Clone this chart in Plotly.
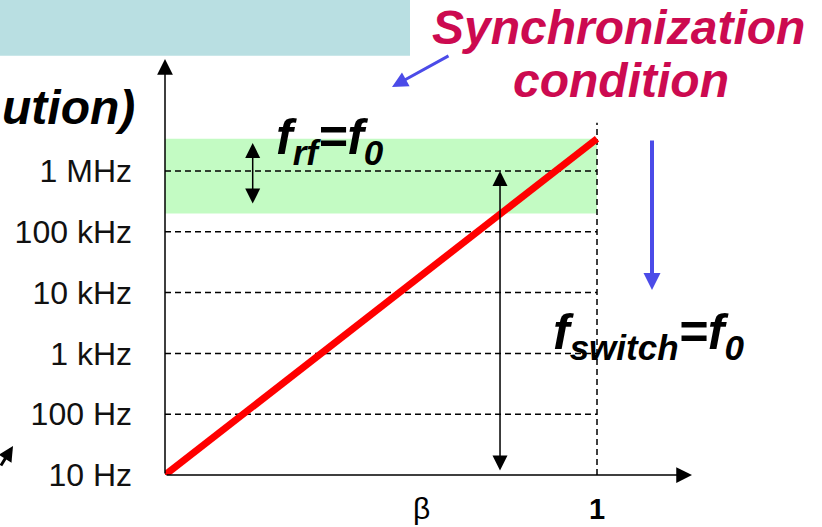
import math
import plotly.graph_objects as go

# ---------------- data ----------------
tick_vals = [1e1, 1e2, 1e3, 1e4, 1e5, 1e6]
tick_text = ["10 Hz", "100 Hz", "1 kHz", "10 kHz", "100 kHz", "1 MHz"]
grid_f = [1e2, 1e3, 1e4, 1e5, 1e6]
line_beta = [0.0, 1.0]
line_f = [10.0, 3.4e6]
band_beta = [0.0, 1.0]
band_f = [2.0e5, 3.4e6]
marker_beta = 1.0
marker_f = [10.0, 6.2e6]
rf_arrow_beta = 0.203
rf_arrow_f = [2.75e5, 2.9e6]
sw_arrow_beta = 0.7755
sw_arrow_f = [11.2, 1.0e6]
beta_label_x = 0.594
x_tick_vals = [1]
x_tick_text = ["1"]

# ---------------- geometry ----------------
W, H = 822, 527
L, R, T, B = 165, 130, 59, 52
PW, PH = W - L - R, H - T - B
X_RANGE = [0, PW / 432.0]
Y_RANGE = [1, 1 + PH / 60.8]


def px(x):
    return (x - L) / PW


def py(y):
    return (H - B - y) / PH


fig = go.Figure()

# green band
fig.add_trace(go.Scatter(
    x=[band_beta[0], band_beta[1], band_beta[1], band_beta[0], band_beta[0]],
    y=[band_f[0], band_f[0], band_f[1], band_f[1], band_f[0]],
    fill="toself", fillcolor="#c3fbc3", line=dict(width=0), mode="lines",
    hoverinfo="skip", showlegend=False))

# dashed grid lines
gx, gy = [], []
for f in grid_f:
    gx += [0, marker_beta, None]
    gy += [f, f, None]
fig.add_trace(go.Scatter(x=gx, y=gy, mode="lines",
                         line=dict(color="black", width=1.5, dash="6px,4px"),
                         hoverinfo="skip", showlegend=False))
fig.add_trace(go.Scatter(x=[marker_beta, marker_beta], y=marker_f, mode="lines",
                         line=dict(color="black", width=1.5, dash="6px,4px"),
                         hoverinfo="skip", showlegend=False))

# red line
fig.add_trace(go.Scatter(x=line_beta, y=line_f, mode="lines",
                         line=dict(color="#ff0000", width=7),
                         hoverinfo="skip", showlegend=False))

ann = []
# axes with arrows
ann.append(dict(xref="paper", yref="paper", x=0, y=1, ax=0, ay=PH, text="",
                showarrow=True, arrowhead=2, arrowsize=2.1, arrowwidth=1.5,
                arrowcolor="black"))
ann.append(dict(xref="paper", yref="paper", x=1, y=0, ax=-PW, ay=0, text="",
                showarrow=True, arrowhead=2, arrowsize=2.1, arrowwidth=1.5,
                arrowcolor="black"))

# double arrows
ann.append(dict(xref="x", yref="y", axref="x", ayref="y",
                x=rf_arrow_beta, y=math.log10(rf_arrow_f[1]),
                ax=rf_arrow_beta, ay=math.log10(rf_arrow_f[0]), text="",
                showarrow=True, arrowside="end+start", arrowhead=2,
                startarrowhead=2, arrowsize=2.0, startarrowsize=2.0,
                arrowwidth=1.5, arrowcolor="black"))
ann.append(dict(xref="x", yref="y", axref="x", ayref="y",
                x=sw_arrow_beta, y=math.log10(sw_arrow_f[1]),
                ax=sw_arrow_beta, ay=math.log10(sw_arrow_f[0]), text="",
                showarrow=True, arrowside="end+start", arrowhead=2,
                startarrowhead=2, arrowsize=2.0, startarrowsize=2.0,
                arrowwidth=1.5, arrowcolor="black"))

# blue arrows
BLUE = "#4b4be8"
ann.append(dict(xref="paper", yref="paper", x=px(392), y=py(87), ax=58, ay=-32,
                text="", showarrow=True, arrowhead=2, arrowsize=1.05,
                arrowwidth=3, arrowcolor=BLUE))
ann.append(dict(xref="paper", yref="paper", x=px(652), y=py(290), ax=0, ay=-151,
                text="", showarrow=True, arrowhead=2, arrowsize=0.85,
                arrowwidth=4, arrowcolor=BLUE))
# small black arrow bottom-left
ann.append(dict(xref="paper", yref="paper", x=px(13), y=py(446), ax=-15, ay=21,
                text="", showarrow=True, arrowhead=2, arrowsize=1.0,
                arrowwidth=3, arrowcolor="black"))

FONT = "Liberation Sans, Arial, sans-serif"
RED_TXT = "#cc0a50"
ann.append(dict(xref="paper", yref="paper", x=px(618), y=py(28), text="Synchronization",
                showarrow=False, xanchor="center", yanchor="middle",
                font=dict(family=FONT, size=48, color=RED_TXT, weight="bold", style="italic")))
ann.append(dict(xref="paper", yref="paper", x=px(621), y=py(80), text="condition",
                showarrow=False, xanchor="center", yanchor="middle",
                font=dict(family=FONT, size=48, color=RED_TXT, weight="bold", style="italic")))
ann.append(dict(xref="paper", yref="paper", x=px(137), y=py(107), text="ution)",
                showarrow=False, xanchor="right", yanchor="middle",
                font=dict(family=FONT, size=48, color="black", weight="bold", style="italic")))
ann.append(dict(xref="paper", yref="paper", x=px(274), y=py(140),
                text="f<sub>rf</sub>=f<sub>0</sub>",
                showarrow=False, xanchor="left", yanchor="middle",
                font=dict(family=FONT, size=50, color="black", weight="bold", style="italic")))
ann.append(dict(xref="paper", yref="paper", x=px(551), y=py(335),
                text="f<sub>switch</sub>=f<sub>0</sub>",
                showarrow=False, xanchor="left", yanchor="middle",
                font=dict(family=FONT, size=50, color="black", weight="bold", style="italic")))
ann.append(dict(xref="x", yref="paper", x=beta_label_x, y=py(508), text="β",
                showarrow=False, xanchor="center", yanchor="middle",
                font=dict(family=FONT, size=30, color="black")))

fig.update_layout(
    width=W, height=H,
    margin=dict(l=L, r=R, t=T, b=B, autoexpand=False),
    paper_bgcolor="white", plot_bgcolor="white",
    showlegend=False,
    annotations=ann,
    shapes=[dict(type="rect", xref="paper", yref="paper", x0=px(-5), x1=px(410),
                 y0=py(55.7), y1=py(-5), fillcolor="#b9dfe2", line=dict(width=0),
                 layer="below")],
    xaxis=dict(range=X_RANGE, showgrid=False, zeroline=False, showline=False,
               tickvals=x_tick_vals, ticktext=x_tick_text, ticks="",
               ticklabelstandoff=14,
               tickfont=dict(family=FONT, size=29, color="black", weight="bold")),
    yaxis=dict(type="log", range=Y_RANGE, showgrid=False, zeroline=False,
               showline=False, tickvals=tick_vals, ticktext=tick_text, ticks="",
               ticklabelstandoff=32,
               tickfont=dict(family=FONT, size=32, color="#111111")),
)

fig.write_html("out.html", config={"displayModeBar": False},
               post_script="document.body.style.margin='0';document.body.style.overflow='hidden';")
